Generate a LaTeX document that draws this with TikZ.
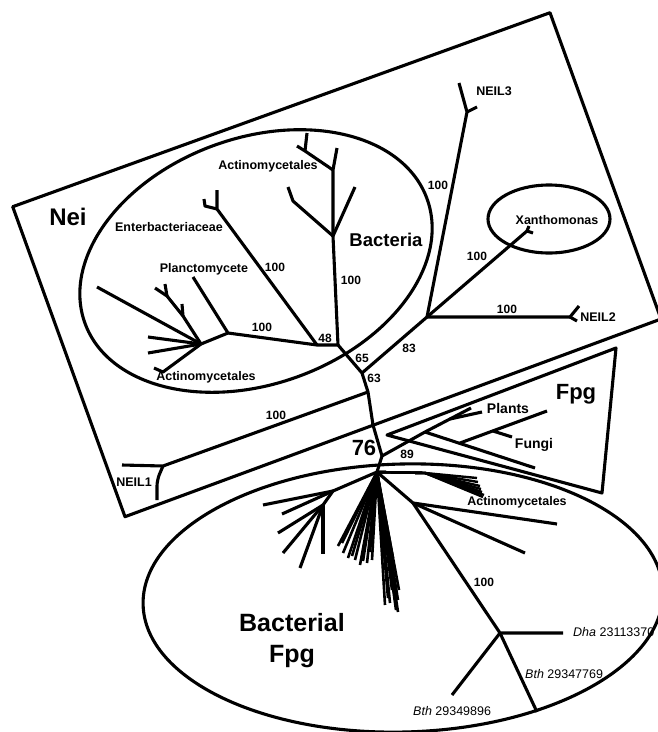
\documentclass[tikz,border=0pt]{standalone}
\usepackage{fontspec}
\setmainfont{Liberation Sans}
\begin{document}
\begin{tikzpicture}[x=1pt,y=-1pt,
  ln/.style={line width=3.1pt,line join=round},
  lab/.style={font=\fontsize{12.5}{14}\selectfont\bfseries,inner sep=0pt},
  num/.style={font=\fontsize{12}{14}\selectfont\bfseries,inner sep=0pt},
  sp/.style={font=\fontsize{12.5}{14}\selectfont,inner sep=0pt,anchor=west},
  big/.style={font=\fontsize{#1}{#1}\selectfont\bfseries,inner sep=0pt}]
\useasboundingbox (0,0) rectangle (658,732);
\clip (0,0) rectangle (658,732);

% ---------- enclosures ----------
\coordinate (nb1) at (12.7,206.7);
\coordinate (nb2) at (550,12.7);
\coordinate (nb3) at (661,319);
\coordinate (nb4) at (125,516.7);
\draw[ln] (nb1) -- (nb2) -- (nb3) -- (nb4) -- cycle;
\coordinate (fb1) at (387,435);
\coordinate (fb2) at (616,348);
\coordinate (fb3) at (602,493);
\draw[ln] (fb1) -- (fb2) -- (fb3) -- cycle;
\draw[ln,rotate around={20:(256,261)}] (256,261) ellipse[x radius=182,y radius=123];
\draw[ln] (549,219) ellipse[x radius=61,y radius=34];
\draw[ln,rotate around={1.5:(403,598)}] (403,598) ellipse[x radius=260,y radius=134];

% ---------- trunk ----------
\coordinate (t48) at (317,345);
\coordinate (t65) at (338,345);
\coordinate (t63) at (362,373);
\coordinate (tn1) at (368,392);
\coordinate (tk) at (373,425);
\coordinate (t76) at (382,456);
\coordinate (r) at (377,472);
\draw[ln] (t48) -- (t65) -- (t63) -- (tn1) -- (tk) -- (t76) -- (r);

% ---------- Nei: NEIL2/3, Xanthomonas ----------
\coordinate (j83) at (427,317);
\coordinate (n3) at (467,112);
\coordinate (n3a) at (459,83);
\coordinate (n3b) at (477,107);
\coordinate (xa) at (527,231);
\coordinate (xa1) at (533,233);
\coordinate (xa2) at (529,226);
\coordinate (n2) at (570,317);
\coordinate (n2a) at (579,306);
\coordinate (n2b) at (577,321);
\draw[ln] (t63) -- (j83);
\draw[ln] (j83) -- (n3) -- (n3a);
\draw[ln] (n3) -- (n3b);
\draw[ln] (j83) -- (xa) -- (xa1);
\draw[ln] (xa) -- (xa2);
\draw[ln] (j83) -- (n2) -- (n2a);
\draw[ln] (n2) -- (n2b);

% ---------- NEIL1 ----------
\coordinate (n1) at (163,466);
\coordinate (n1a) at (122,465);
\coordinate (n1b) at (157,480);
\coordinate (n1c) at (157,500);
\draw[ln] (tn1) -- (n1) -- (n1a);
\draw[ln,rounded corners=6pt] (n1) -- (n1b) -- (n1c);

% ---------- Bacteria clade ----------
\coordinate (s1) at (333,236);
\coordinate (s1a) at (355,187);
\coordinate (s1b) at (293,201);
\coordinate (s1c) at (288,187);
\coordinate (s2) at (333,170);
\coordinate (s2a) at (337,148);
\coordinate (s3) at (305,151);
\coordinate (s3a) at (297,146);
\coordinate (s3b) at (307,133);
\draw[ln] (t65) -- (s1) -- (s2) -- (s2a);
\draw[ln] (s1) -- (s1a);
\draw[ln] (s1) -- (s1b) -- (s1c);
\draw[ln] (s2) -- (s3) -- (s3a);
\draw[ln] (s3) -- (s3b);

\coordinate (e1) at (217,209);
\coordinate (e1a) at (217,190);
\coordinate (e1b) at (205,206);
\coordinate (e1c) at (204,199);
\draw[ln] (t48) -- (e1) -- (e1a);
\draw[ln] (e1) -- (e1b) -- (e1c);

\coordinate (p0) at (228,333);
\coordinate (pl) at (193,277);
\coordinate (p1) at (201,344);
\coordinate (pa) at (97,287);
\coordinate (pb) at (148,337);
\coordinate (pc) at (148,353);
\coordinate (pd) at (163,372);
\coordinate (pd2) at (154,368);
\coordinate (q2) at (183,316);
\coordinate (q2a) at (182,304);
\coordinate (q1) at (167,296);
\coordinate (q1a) at (155,288);
\coordinate (q1b) at (165,284);
\draw[ln] (t48) -- (p0) -- (pl);
\draw[ln] (p0) -- (p1);
\foreach \t in {pa,pb,pc} \draw[ln] (p1) -- (\t);
\draw[ln] (p1) -- (pd) -- (pd2);
\draw[ln] (p1) -- (q2) -- (q1) -- (q1a);
\draw[ln] (q1) -- (q1b);
\draw[ln] (q2) -- (q2a);

% ---------- Fpg (plants, fungi) ----------
\coordinate (fa) at (425,432);
\coordinate (fpa) at (450,419);
\coordinate (pla) at (471,408);
\coordinate (plb) at (482,412);
\coordinate (fend) at (535,468);
\coordinate (fu0) at (460,443);
\coordinate (fu) at (547,411);
\coordinate (fu1) at (493,431);
\coordinate (fu1a) at (512,437);
\draw[ln] (t76) -- (fa) -- (pla);
\draw[ln] (fpa) -- (plb);
\draw[ln] (fa) -- (fend);
\draw[ln] (fu0) -- (fu);
\draw[ln] (fu1) -- (fu1a);

% ---------- Bacterial Fpg ----------
\coordinate (l1) at (333,491);
\coordinate (l2) at (323,505);
\foreach \p in {(263,505),(282,514)} \draw[ln] (l1) -- \p;
\draw[ln] (r) -- (l1) -- (l2);
\foreach \p in {(278,533),(283,553),(300,568),(323,554)} \draw[ln] (l2) -- \p;
\foreach \p in {(338,546),(342,543),(343,553),(348,558),(352,556),(355,560),(360,565),(363,561),(367,563),(370,552),(372,560),
                (385,605),(388,598),(390,603),(392,590),(393,580),(394,570),(393,558),(396,610),(398,600),(399,590),(398,612)}
  \draw[ln,line width=2.6pt] (r) -- \p;
\foreach \p in {(477,478),(478,482),(480,486),(481,489),(482,492),(484,495),(483,497)}
  \draw[ln,line width=2.4pt] (r) -- (425,473) -- \p;
\coordinate (k1) at (413,503);
\coordinate (k1a) at (557,524);
\coordinate (k1b) at (525,553);
\coordinate (dj) at (500,633);
\coordinate (dha) at (563,633);
\coordinate (bth1) at (452,695);
\coordinate (bth2) at (537,712);
\draw[ln] (r) -- (k1) -- (k1a);
\draw[ln] (k1) -- (k1b);
\draw[ln] (k1) -- (dj) -- (dha);
\draw[ln] (dj) -- (bth1);
\draw[ln] (dj) -- (bth2);

% ---------- labels ----------
\node[big=24] (lnei) at (68,217) {Nei};
\node[big=18.5] (lbac) at (386,240) {Bacteria};
\node[big=22] (lfpg) at (576,394) {Fpg};
\node[big=22] (l76) at (364,448) {76};
\node[align=center,inner sep=0pt,font=\fontsize{25}{31}\selectfont\bfseries] (lbf) at (292,641) {Bacterial\\Fpg};

\node[lab] (la1) at (268,166) {Actinomycetales};
\node[lab] (lent) at (169,227) {Enterbacteriaceae};
\node[lab] (lpla) at (204,269) {Planctomycete};
\node[lab] (la2) at (206,377) {Actinomycetales};
\node[lab] (la3) at (517,502) {Actinomycetales};
\node[lab] (lxan) at (557,220) {Xanthomonas};
\node[lab] (lnl3) at (494,91) {NEIL3};
\node[lab] (lnl2) at (598,317) {NEIL2};
\node[lab] (lnl1) at (134,482) {NEIL1};
\node[lab,font=\fontsize{14}{16}\selectfont\bfseries] (lpl) at (508,408) {Plants};
\node[lab,font=\fontsize{14}{16}\selectfont\bfseries] (lfu) at (534,445) {Fungi};

\node[num] (b1) at (275,267) {100};
\node[num] (b2) at (262,327) {100};
\node[num] (b3) at (351,280) {100};
\node[num] (b4) at (438,185) {100};
\node[num] (b5) at (477,256) {100};
\node[num] (b6) at (507,309) {100};
\node[num] (b7) at (276,415) {100};
\node[num] (b8) at (484,582) {100};
\node[num] (b48) at (325,338) {48};
\node[num] (b65) at (362,358) {65};
\node[num] (b63) at (374,378) {63};
\node[num] (b83) at (409,348) {83};
\node[num] (b89) at (407,454) {89};

\node[sp] (sdha) at (573,632) {\textit{Dha} 23113370};
\node[sp] (sbt1) at (525,674) {\textit{Bth} 29347769};
\node[sp] (sbt2) at (413,711) {\textit{Bth} 29349896};
\end{tikzpicture}
\end{document}
